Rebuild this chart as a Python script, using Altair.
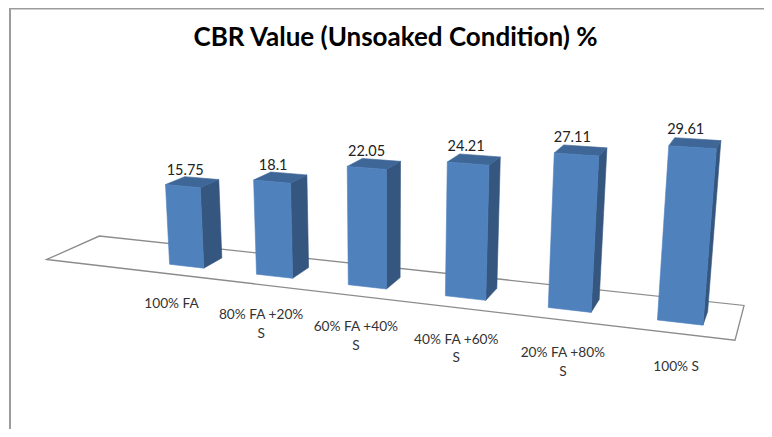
import altair as alt
import pandas as pd
import numpy as np

categories = ["100% FA", "80% FA +20%", "60% FA +40%", "40% FA +60%", "20% FA +80%", "100% S"]
category_line2 = ["", "S", "S", "S", "S", ""]
values = [15.75, 18.1, 22.05, 24.21, 27.11, 29.61]
title = "CBR Value (Unsoaked Condition) %"

# page-pixel camera: (category slot, depth, value) -> screen position
CAM = [81.182412, 61.157301, -0.461028, 129.192964,
       2.676907, -7.109576, -5.346594, 269.164895,
       -0.02692, 0.071976, -0.001194]
W, H = 764, 421
FONT = "Lato"

def project(u, d, v):
    w = CAM[8] * u + CAM[9] * d + CAM[10] * v + 1
    return ((CAM[0] * u + CAM[1] * d + CAM[2] * v + CAM[3]) / w,
            (CAM[4] * u + CAM[5] * d + CAM[6] * v + CAM[7]) / w)

faces = {"side": [], "top": [], "front": []}
A, B, D0, D1 = 0.3, 0.7, 0.3, 0.7
for i, v in enumerate(values):
    a, b = i + A, i + B
    quads = {
        "front": [(a, D0, v), (b, D0, v), (b, D0, 0), (a, D0, 0)],
        "top": [(a, D0, v), (a, D1, v), (b, D1, v), (b, D0, v)],
        "side": [(b, D0, v), (b, D1, v), (b, D1, 0), (b, D0, 0)],
    }
    for name, q in quads.items():
        for k, p in enumerate(q):
            x, y = project(*p)
            faces[name].append({"bar": i, "k": k, "x": x, "y": y})

floor = []
for k, (u, d) in enumerate([(-1, 0), (6, 0), (6, 1), (-1, 1)]):
    x, y = project(u, d, 0)
    floor.append({"k": k, "x": x, "y": y})

value_rows = []
for i, v in enumerate(values):
    x, y = project(i + 0.5, D1, v)
    value_rows.append({"x": x - 16.5 + 0.9 * i, "y": y - 7 - 0.4 * i, "t": f"{v:g}"})

cat_rows = []
for i, (c, c2) in enumerate(zip(categories, category_line2)):
    x, y = project(0.97 + 0.93 * i, -0.8, 0)
    cat_rows.append({"x": x - 2, "y": y + 1, "t": c})
    if c2:
        cat_rows.append({"x": x - 2, "y": y + 19.5, "t": c2})

xs = alt.Scale(domain=[8, 8 + W], range=[0, W])
ys = alt.Scale(domain=[8, 8 + H], range=[0, H])
X = alt.X("x:Q", scale=xs, axis=None)
Y = alt.Y("y:Q", scale=ys, axis=None)

frame = alt.Chart(pd.DataFrame({"k": [0, 1, 2], "x": [10, 10, 772], "y": [445, 8.5, 8.5]})).mark_line(
    color="#9c9c9c", strokeWidth=2, clip=False
).encode(x=X, y=Y, order="k:Q")

floor_layer = alt.Chart(pd.DataFrame(floor)).mark_line(
    interpolate="linear-closed", color="#8c8c8c", strokeWidth=1.3
).encode(x=X, y=Y, order="k:Q")

def face_layer(name, colour):
    return alt.Chart(pd.DataFrame(faces[name])).mark_line(
        interpolate="linear-closed", color=colour, fill=colour, strokeWidth=0.6
    ).encode(x=X, y=Y, order="k:Q", detail="bar:N")

value_text = alt.Chart(pd.DataFrame(value_rows)).mark_text(
    font=FONT, fontSize=14.5, color="#222222", align="center", baseline="middle"
).encode(x=X, y=Y, text="t:N")

cat_text = alt.Chart(pd.DataFrame(cat_rows)).mark_text(
    font=FONT, fontSize=13.7, color="#333333", align="center", baseline="middle"
).encode(x=X, y=Y, text="t:N")

title_text = alt.Chart(pd.DataFrame([{"x": 395.5, "y": 37.5, "t": title}])).mark_text(
    font=FONT, fontSize=26, fontWeight="bold", color="#000000", align="center", baseline="middle"
).encode(x=X, y=Y, text="t:N")

chart = alt.layer(
    frame, floor_layer,
    face_layer("side", "#34567f"), face_layer("top", "#3e6797"), face_layer("front", "#4f81bd"),
    value_text, cat_text, title_text,
).properties(
    width=W - 8, height=H, padding=0, autosize=alt.AutoSizeParams(type="none")
).configure_view(stroke=None)

chart.save("out.html", embed_options={"renderer": "svg", "actions": False})
